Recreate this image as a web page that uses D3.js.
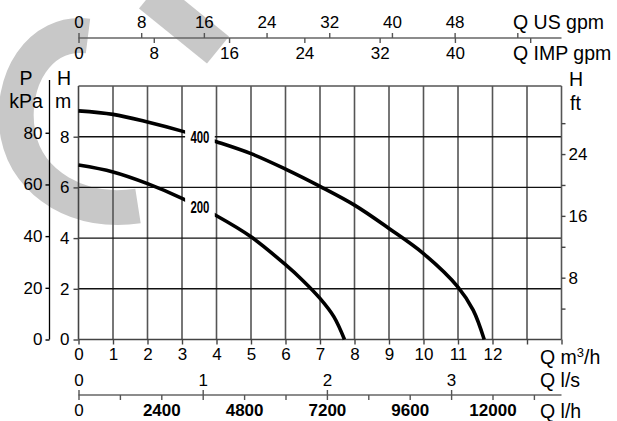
<!DOCTYPE html>
<html><head><meta charset="utf-8">
<script src="https://cdn.jsdelivr.net/npm/d3@7"></script>
<style>
html,body{margin:0;padding:0;background:#fff;}
svg text{font-family:"Liberation Sans",Arial,sans-serif;}
</style></head>
<body><svg id="c" width="617" height="421"></svg>
<script>
// ---- data ----
const qTicks = [0,1,2,3,4,5,6,7,8,9,10,11,12,13,14];
const qLabels = [0,1,2,3,4,5,6,7,8,9,10,11,12];
const hTicks = [0,2,4,6,8];
const pTicks = [0,20,40,60,80];
const ftTicks = [4,8,12,16,20,24,28];
const ftLabels = [8,16,24];
const usTicks = [0,8,16,24,32,40,48,56];
const usLabels = [0,8,16,24,32,40,48];
const impTicks = [0,8,16,24,32,40,48];
const impLabels = [0,8,16,24,32,40];
const lsTicks = [0,1,2,3];
const lhTicks = [0,1200,2400,3600,4800,6000,7200,8400,9600,10800,12000,13200];
const lhLabels = [0,2400,4800,7200,9600,12000];
const curve400Q = [0,1,2,3,4,5,6,7,8,9,10,11,11.44,11.76];
const curve400H = [9.02,8.88,8.58,8.22,7.8,7.33,6.72,6.04,5.3,4.38,3.39,2.07,1.16,0];
const curve200Q = [0,1,2,3,4,5,6,6.5,7,7.4,7.71];
const curve200H = [6.88,6.61,6.15,5.57,4.88,4.05,2.95,2.33,1.62,0.9,0];
const curveNames = ["400","200"];
const labelQ = 3.52;

const svg = d3.select("#c");
const x = d3.scaleLinear().domain([0,14]).range([78.5,561.5]);
const y = d3.scaleLinear().domain([0,10]).range([339.5,86]);
const yP = d3.scaleLinear().domain([0,98.1]).range([339.5,86]);
const yFt = d3.scaleLinear().domain([0,10/0.3048]).range([339.5,86]);
const xUS = d3.scaleLinear().domain([0,14*4.4029]).range([78.5,561.5]);
const xIMP = d3.scaleLinear().domain([0,14*3.6662]).range([78.5,561.5]);
const xLS = d3.scaleLinear().domain([0,14/3.6]).range([78.5,561.5]);
const xLH = d3.scaleLinear().domain([0,14000]).range([78.5,561.5]);

// ---- watermark swoosh ----
const wm = svg.append("g").attr("fill","none").attr("stroke","#c8c8c8").attr("stroke-width",35);
wm.append("path").attr("d","M 218 50 L 150 -5");
wm.append("path").attr("d","M 88 36 C 40 30, 8 80, 18 135 C 28 185, 80 215, 138 206");

// ---- grid ----
const g = svg.append("g");
g.selectAll("line.v").data(qTicks.slice(1,-1)).join("line")
  .attr("x1",d=>x(d)).attr("x2",d=>x(d)).attr("y1",y(10)).attr("y2",y(0))
  .attr("stroke","#555").attr("stroke-width",1.6);
g.selectAll("line.h").data(hTicks.slice(1)).join("line")
  .attr("x1",x(0)).attr("x2",x(14)).attr("y1",d=>y(d)).attr("y2",d=>y(d))
  .attr("stroke","#111").attr("stroke-width",1.4);
g.append("line").attr("x1",x(0)).attr("x2",x(14)).attr("y1",y(10)).attr("y2",y(10)).attr("stroke","#555").attr("stroke-width",1.6);
g.append("line").attr("x1",x(14)).attr("x2",x(14)).attr("y1",y(10)).attr("y2",y(0)).attr("stroke","#555").attr("stroke-width",1.6);
g.append("line").attr("x1",x(0)).attr("x2",x(0)).attr("y1",y(10)).attr("y2",y(0)).attr("stroke","#444").attr("stroke-width",1.6);
g.append("line").attr("x1",x(0)).attr("x2",x(14)).attr("y1",y(0)).attr("y2",y(0)).attr("stroke","#444").attr("stroke-width",1.6);

// ---- curves ----
const line = d3.line().x(d=>x(d[0])).y(d=>y(d[1])).curve(d3.curveCatmullRom.alpha(0.5));
const curves = [d3.zip(curve400Q,curve400H), d3.zip(curve200Q,curve200H)];
svg.selectAll("path.curve").data(curves).join("path")
  .attr("d",line).attr("fill","none").attr("stroke","#000").attr("stroke-width",3.6);
const interp = (qs,hs,q)=>{for(let i=1;i<qs.length;i++){if(q<=qs[i]){const t=(q-qs[i-1])/(qs[i]-qs[i-1]);return hs[i-1]+t*(hs[i]-hs[i-1]);}}return hs[hs.length-1];};
const labH = [interp(curve400Q,curve400H,labelQ), interp(curve200Q,curve200H,labelQ)];
curveNames.forEach((n,i)=>{
  const cx = x(labelQ), cy = y(labH[i]);
  svg.append("rect").attr("x",x(3.09)).attr("y",cy-10).attr("width",x(3.95)-x(3.09)).attr("height",20).attr("fill","#fff");
  svg.append("text").attr("x",cx).attr("y",cy+6).attr("text-anchor","middle")
    .attr("textLength",19).attr("lengthAdjust","spacingAndGlyphs")
    .style("font-weight","bold").style("font-size","16px").text(n);
});

// ---- left H axis ----
const fs = "17px", us = "19.5px";
const styleAx = (a,col)=>{a.select(".domain").remove();a.selectAll("line").attr("stroke",col||"#444").attr("stroke-width",1.4);
    a.selectAll("text").style("font-size",fs).style("font-family","Liberation Sans").attr("fill","#000");};
svg.append("g").attr("transform",`translate(${x(0)},0)`)
  .call(d3.axisLeft(y).tickValues(hTicks).tickSize(5).tickPadding(4)).call(a=>styleAx(a));
svg.append("g").attr("transform","translate(49.5,0)")
  .call(d3.axisLeft(yP).tickValues(pTicks).tickSize(4).tickPadding(3)).call(a=>styleAx(a,"#000"));
svg.append("line").attr("x1",49.5).attr("x2",49.5).attr("y1",80).attr("y2",y(0)).attr("stroke","#000").attr("stroke-width",1.3);
const T = (tx,ty,s,anchor,size)=>svg.append("text").attr("x",tx).attr("y",ty).attr("text-anchor",anchor||"start").style("font-size",size||us).text(s);
T(26,85,"P","middle"); T(26,108,"kPa","middle");
T(64,85,"H","middle"); T(63,108,"m","middle");
svg.append("g").attr("transform",`translate(${x(14)},0)`)
  .call(d3.axisRight(yFt).tickValues(ftTicks).tickSize(4).tickPadding(3).tickFormat(d=>ftLabels.includes(d)?d:""))
  .call(a=>styleAx(a));
T(569,86,"H"); T(570,110,"ft");

// ---- bottom m3/h axis ----
svg.append("g").attr("transform",`translate(0,${y(0)})`)
  .call(d3.axisBottom(x).tickValues(qTicks).tickSize(5).tickPadding(3).tickFormat(d=>qLabels.includes(d)?d:""))
  .call(a=>styleAx(a));
const qm = T(540,364,"Q m");
qm.append("tspan").attr("dy",-7).style("font-size","13px").text("3");
qm.append("tspan").attr("dy",7).text("/h");

// ---- l/s and l/h axis ----
const yB = 395;
svg.append("line").attr("x1",x(0)).attr("x2",x(14)).attr("y1",yB).attr("y2",yB).attr("stroke","#666").attr("stroke-width",1.6);
svg.append("g").attr("transform",`translate(0,${yB})`)
  .call(d3.axisTop(xLS).tickValues(lsTicks).tickSize(5).tickPadding(4).tickFormat(d3.format("d")))
  .call(a=>styleAx(a,"#555"));
svg.append("g").attr("transform",`translate(0,${yB})`)
  .call(d3.axisBottom(xLH).tickValues(lhTicks).tickSize(5).tickPadding(4).tickFormat(d=>lhLabels.includes(d)?d:""))
  .call(a=>{styleAx(a,"#555");a.selectAll("text").style("font-weight",d=>d===0?"normal":"bold");});
T(540,387,"Q l/s"); T(540,418,"Q l/h");

// ---- top gpm axes ----
const yT = 38;
svg.append("line").attr("x1",x(0)).attr("x2",x(14)).attr("y1",yT).attr("y2",yT).attr("stroke","#666").attr("stroke-width",1.6);
svg.append("g").attr("transform",`translate(0,${yT})`)
  .call(d3.axisTop(xUS).tickValues(usTicks).tickSize(5).tickPadding(5).tickFormat(d=>usLabels.includes(d)?d:""))
  .call(a=>styleAx(a,"#555"));
svg.append("g").attr("transform",`translate(0,${yT})`)
  .call(d3.axisBottom(xIMP).tickValues(impTicks).tickSize(5).tickPadding(4).tickFormat(d=>impLabels.includes(d)?d:""))
  .call(a=>styleAx(a,"#555"));
T(513,29,"Q US gpm"); T(513,60,"Q IMP gpm");
</script></body></html>
